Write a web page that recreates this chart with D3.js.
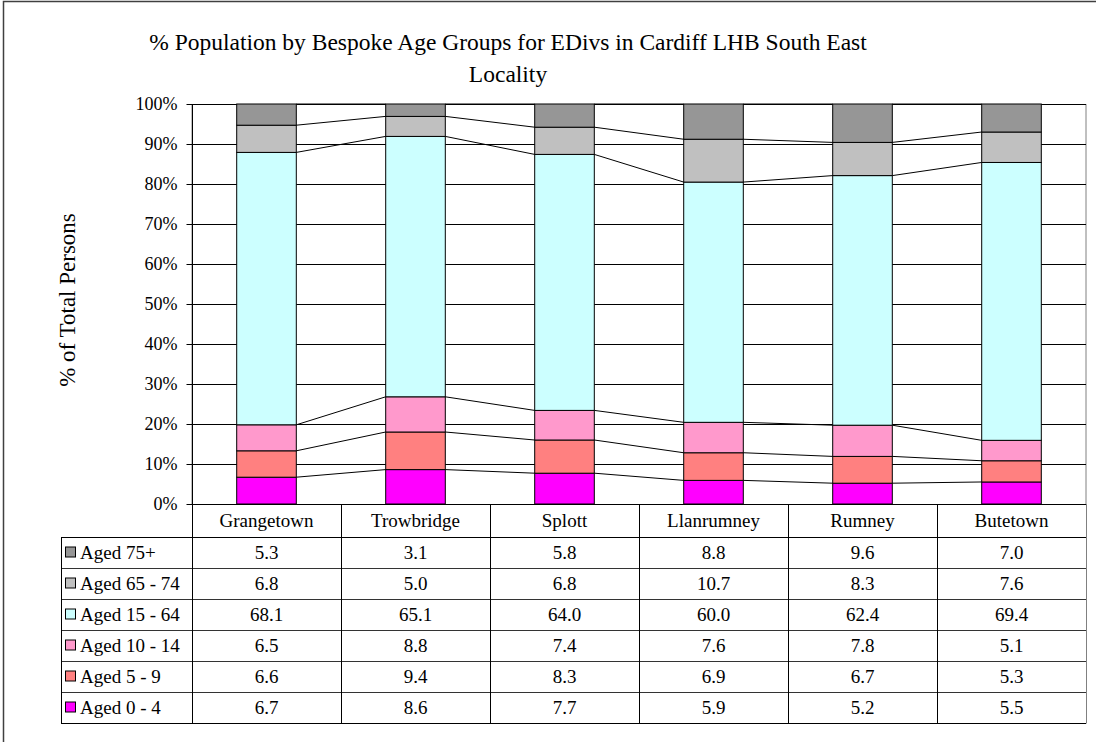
<!DOCTYPE html>
<html><head><meta charset="utf-8">
<script src="https://cdn.jsdelivr.net/npm/d3@7"></script>
<style>body{margin:0;background:#fff}svg{display:block}text{font-family:"Liberation Serif","Times New Roman",serif;fill:#000}</style>
</head><body>
<svg id="c" width="1096" height="742"></svg>
<script>
const categories = ["Grangetown","Trowbridge","Splott","Llanrumney","Rumney","Butetown"];
const seriesNames = ["Aged 0 - 4","Aged 5 - 9","Aged 10 - 14","Aged 15 - 64","Aged 65 - 74","Aged 75+"];
const aged0_4   = [6.7, 8.6, 7.7, 5.9, 5.2, 5.5];
const aged5_9   = [6.6, 9.4, 8.3, 6.9, 6.7, 5.3];
const aged10_14 = [6.5, 8.8, 7.4, 7.6, 7.8, 5.1];
const aged15_64 = [68.1, 65.1, 64.0, 60.0, 62.4, 69.4];
const aged65_74 = [6.8, 5.0, 6.8, 10.7, 8.3, 7.6];
const aged75p   = [5.3, 3.1, 5.8, 8.8, 9.6, 7.0];
const seriesColors = ["#FF00FF","#FF8080","#FF99CC","#CCFFFF","#C0C0C0","#969696"];
const yTicks = [0,10,20,30,40,50,60,70,80,90,100];
const titleLines = ["% Population by Bespoke Age Groups for EDivs in Cardiff LHB South East","Locality"];

const seriesValues = [aged0_4, aged5_9, aged10_14, aged15_64, aged65_74, aged75p];
const rows = categories.map((c,i)=>{const o={cat:c}; seriesNames.forEach((s,j)=>o[s]=seriesValues[j][i]); return o;});
const stack = d3.stack().keys(seriesNames).offset(d3.stackOffsetExpand)(rows);

const serif = "Liberation Serif";
const svg = d3.select("#c");
const L=192, R=1086, T=104, B=504;
svg.append("rect").attr("x",3.5).attr("y",1.5).attr("width",1100).attr("height",760).attr("fill","#fff").attr("stroke","#404040").attr("stroke-width",1.5);

// title
const tt = svg.append("text").attr("text-anchor","middle").attr("font-size",23.5).attr("font-family",serif);
titleLines.forEach((l,i)=>tt.append("tspan").attr("x",508).attr("y",50+i*32).text(l));

const x = d3.scaleBand().domain(categories).range([L,R]).paddingInner(0.6).paddingOuter(0.3);
const xc = d3.scaleBand().domain(categories).range([L,R]);
const y = d3.scaleLinear().domain([0,1]).range([B,T]);

// plot border and grid
svg.append("rect").attr("x",L).attr("y",T+0.5).attr("width",R-L).attr("height",B-T).attr("fill","#fff").attr("stroke","#808080");
svg.append("g").selectAll("line").data(yTicks).join("line")
  .attr("x1",L).attr("x2",R).attr("y1",d=>Math.round(y(d/100))+0.5).attr("y2",d=>Math.round(y(d/100))+0.5).attr("stroke","#000");

// axis
const ax = svg.append("g").attr("transform",`translate(${L+0.5},0)`).call(d3.axisLeft(y).tickValues(yTicks.map(d=>d/100)).tickFormat(d3.format(".0%")).tickSize(6).tickPadding(9));
ax.attr("font-family",serif).attr("font-size",18);
ax.select(".domain").attr("stroke","#000").attr("d",`M0,${T}V${B}`);
ax.selectAll(".tick line").attr("stroke","#000");
ax.selectAll(".tick text").attr("font-size",18).attr("font-family",serif).attr("fill","#000");
ax.selectAll(".tick").attr("transform",d=>`translate(0,${Math.round(y(d))+0.5})`);

// y title
svg.append("text").attr("transform","translate(75,300) rotate(-90)").attr("text-anchor","middle").attr("font-size",23).attr("font-family",serif).text("% of Total Persons");

// series lines
const bw = x.bandwidth();
for (let s=0; s<stack.length; s++) {
  const layer = stack[s];
  for (let i=0;i<categories.length-1;i++){
    svg.append("line").attr("x1",x(categories[i])+bw).attr("y1",y(layer[i][1]))
      .attr("x2",x(categories[i+1])).attr("y2",y(layer[i+1][1])).attr("stroke","#000").attr("stroke-width",1);
  }
}

// bars
stack.forEach((layer,s)=>{
  svg.append("g").selectAll("rect").data(layer).join("rect")
    .attr("x",(d,i)=>x(categories[i])).attr("width",bw)
    .attr("y",d=>y(d[1])).attr("height",d=>y(d[0])-y(d[1]))
    .attr("fill",seriesColors[s]).attr("stroke","#000").attr("stroke-width",1);
});

// table
const hdrTop=B, hdrH=33, rowH=31, legL=61, fs=19;
const tg = svg.append("g").attr("font-family",serif);
const order = seriesNames.slice().reverse();
const tableBottom = hdrTop+hdrH+rowH*order.length;
tg.append("rect").attr("x",L+0.5).attr("y",hdrTop+0.5).attr("width",R-L).attr("height",hdrH).attr("fill","none").attr("stroke","#000");
tg.selectAll("text.cat").data(categories).join("text").attr("class","cat")
  .attr("x",d=>xc(d)+xc.bandwidth()/2).attr("y",hdrTop+hdrH/2+6.5).attr("text-anchor","middle").attr("font-size",fs).text(d=>d);
for(let r=0;r<=order.length;r++){
  const yy=hdrTop+hdrH+r*rowH+0.5;
  tg.append("line").attr("x1",legL).attr("x2",R).attr("y1",yy).attr("y2",yy).attr("stroke",r===0||r===order.length?"#000":"#333");
}
tg.append("line").attr("x1",legL+0.5).attr("x2",legL+0.5).attr("y1",hdrTop+hdrH).attr("y2",tableBottom).attr("stroke","#000");
categories.concat(["_end"]).forEach((c,i)=>{
  const xx = (i<categories.length? xc(c) : R)+0.5;
  tg.append("line").attr("x1",xx).attr("x2",xx).attr("y1",hdrTop).attr("y2",tableBottom+0.5).attr("stroke",i===categories.length?"#808080":"#000");
});
order.forEach((s,r)=>{
  const si = seriesNames.indexOf(s);
  const yc = hdrTop+hdrH+r*rowH+rowH/2;
  tg.append("rect").attr("x",65.5).attr("y",yc-5.5).attr("width",10).attr("height",10).attr("fill",seriesColors[si]).attr("stroke","#000");
  tg.append("text").attr("x",80).attr("y",yc+6.5).attr("font-size",fs).text(s);
  categories.forEach((c,i)=>{
    tg.append("text").attr("x",xc(c)+xc.bandwidth()/2).attr("y",yc+6.5).attr("text-anchor","middle").attr("font-size",fs)
      .text(d3.format(".1f")(seriesValues[si][i]));
  });
});
</script>
</body></html>
